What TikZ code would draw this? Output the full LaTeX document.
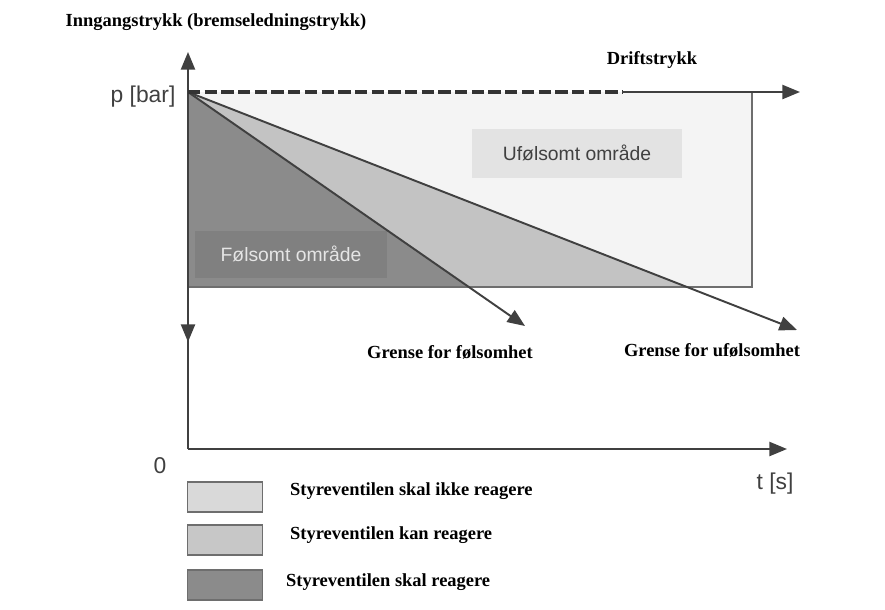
\documentclass[tikz,border=0pt]{standalone}
\usepackage{fontspec}
\setmainfont{Liberation Serif}
\setsansfont{Liberation Sans}
\usetikzlibrary{arrows.meta,positioning}

\definecolor{lightzone}{HTML}{F4F4F4}
\definecolor{midzone}{HTML}{C3C3C3}
\definecolor{darkzone}{HTML}{8B8B8B}
\definecolor{edgegray}{HTML}{6E6E6E}
\definecolor{inkgray}{HTML}{404040}

\begin{document}
\begin{tikzpicture}[x=0.02cm,y=-0.02cm,
  axis/.style={draw=inkgray,line width=1.1pt},
  tip/.style={-{Triangle[width=8pt,length=10pt]}},
  lbl/.style={font=\bfseries\fontsize{10.5}{12}\selectfont,text=black},
  axlbl/.style={font=\sffamily\fontsize{13}{15}\selectfont,text=inkgray},
  zonebox/.style={font=\sffamily\fontsize{11}{13}\selectfont,inner sep=0pt},
  legbox/.style={draw=edgegray,line width=0.9pt,minimum width=1.5cm,minimum height=0.6cm,inner sep=0pt}]
\useasboundingbox (0,0) rectangle (885,609);

\coordinate (O) at (188,92);
\coordinate (B) at (188,287);
\coordinate (Yo) at (188,449);
\coordinate (Ytop) at (188,52);
\coordinate (Ybrk) at (188,342);
\coordinate (Xend) at (787,449);
\coordinate (Dash) at (622,92);
\coordinate (Dend) at (800,92);
\coordinate (Fend) at (525,326);
\coordinate (Uend) at (797,330);

% zones
\fill[lightzone] (O) rectangle (752,287);
\fill[midzone] (O) -- (687,287) -- (B) -- cycle;
\fill[darkzone] (O) -- (468,287) -- (B) -- cycle;
\draw[edgegray,line width=0.9pt] (752,92) -- (752,287) -- (B);

\node[zonebox,fill=black!11,text=inkgray,minimum width=4.2cm,minimum height=0.98cm] (ufz) at (577,153) {Ufølsomt område};
\node[zonebox,fill=black!50,text=black!10,minimum width=3.84cm,minimum height=0.94cm] (fz) at (291,254) {Følsomt område};

% limit lines
\draw[axis,tip] (O) -- (Fend);
\draw[axis,tip] (O) -- (Uend);

% axes
\draw[axis,tip] (Yo) -- (Ytop);
\draw[axis,tip] (B) -- (Ybrk);
\draw[axis,tip] (Yo) -- (Xend);
\draw[axis,draw=black!80,line width=2pt,dash pattern=on 7pt off 2.5pt] (O) -- (Dash);
\draw[axis,tip] (Dash) -- (Dend);

% labels
\node[lbl] (title) at (216,22) {Inngangstrykk (bremseledningstrykk)};
\node[lbl] (drift) at (652,60) {Driftstrykk};
\node[axlbl] (pbar) at (143,97) {p [bar]};
\node[axlbl] (zero) at (160,466) {0};
\node[axlbl] (tlab) at (775,484) {t [s]};
\node[lbl] (gf) at (450,352) {Grense for følsomhet};
\node[lbl] (gu) at (712,350) {Grense for ufølsomhet};

% legend
\node[legbox,fill=black!15] (leg1) at (225,497) {};
\node[legbox,fill=black!22] (leg2) at (225,540) {};
\node[legbox,fill=darkzone] (leg3) at (225,585) {};
\node[lbl,anchor=west] (leg1t) at (284,491) {Styreventilen skal ikke reagere};
\node[lbl,anchor=west] (leg2t) at (284,535) {Styreventilen kan reagere};
\node[lbl,anchor=west] (leg3t) at (280,582) {Styreventilen skal reagere};
\end{tikzpicture}
\end{document}
